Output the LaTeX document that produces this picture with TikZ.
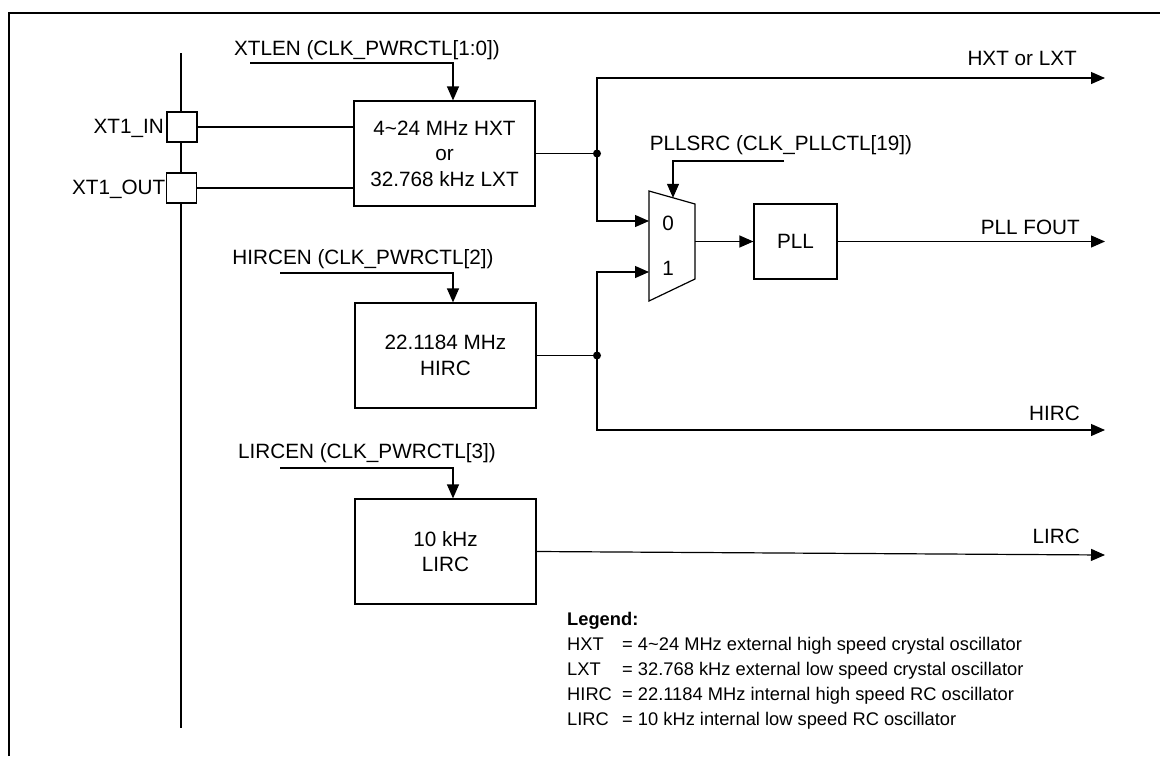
\documentclass[tikz,border=0pt]{standalone}
\usepackage{fontspec}
\setmainfont{Liberation Sans}
\usetikzlibrary{arrows.meta}
\begin{document}
\begin{tikzpicture}[x=1pt,y=-1pt,
  every node/.style={font=\fontsize{20.7}{25.5}\selectfont, inner sep=0pt},
  blk/.style={draw, line width=1.2pt, align=center, fill=white},
  wire/.style={line width=1.2pt},
  arr/.style={wire, -{Triangle[length=14pt,width=12pt]}},
  dot/.style={circle, fill, minimum size=8pt, inner sep=0pt},
]
\useasboundingbox (0,0) rectangle (1160,756);
% frame
\draw[line width=2.5pt] (9,756) -- (9,13) -- (1160,13);
% pin bus
\coordinate (bt) at (181,53);
\coordinate (bb) at (181,728);
\draw[line width=2pt] (bt) -- (bb);
\node[blk, minimum size=30pt] (pin) at (182,127) {};
\node[blk, minimum size=30pt] (pout) at (181.5,188) {};
\node[anchor=east] (lin) at (164,128) {XT1\_IN};
\node[anchor=east] (lout) at (165.5,189) {XT1\_OUT};

% blocks
\node[blk, minimum width=181pt, minimum height=105pt] (hxt) at (444.5,153.5) {4\textasciitilde 24 MHz HXT\\or\\32.768 kHz LXT};
\node[blk, minimum width=181pt, minimum height=105pt] (hirc) at (445.5,355.5) {22.1184 MHz\\HIRC};
\node[blk, minimum width=181pt, minimum height=105pt] (lirc) at (445.5,551.5) {10 kHz\\LIRC};
\node[blk, minimum width=83pt, minimum height=75pt] (pll) at (795.5,241.5) {PLL};

% mux
\coordinate (mtl) at (649,191);
\coordinate (mtr) at (695,204);
\coordinate (mbr) at (695,279);
\coordinate (mbl) at (649,301);
\draw[wire] (mtl) -- (mtr) -- (mbr) -- (mbl) -- cycle;
\coordinate (mux0) at (649,221);
\coordinate (mux1) at (649,272);
\coordinate (muxout) at (695,241.5);
\coordinate (muxsel) at (673,197.8);
\node (m0) at (668,223) {0};
\node (m1) at (668,268) {1};

% pins to HXT
\draw[wire] (pin.east) -- (pin.east -| hxt.west);
\draw[wire] (pout.east) -- (pout.east -| hxt.west);

% junctions
\coordinate (j1) at (597,153.5);
\coordinate (j2) at (597,355.5);
\coordinate (o1) at (1105,78);
\coordinate (o2) at (1105,241.5);
\coordinate (o3) at (1105,430);
\coordinate (o4) at (1105,555);

\draw[wire] (hxt.east) -- (j1);
\draw[arr] (j1) |- (o1);
\draw[arr] (j1) |- (mux0);
\node[dot] (d1) at (j1) {};

\draw[wire] (hirc.east) -- (j2);
\draw[arr] (j2) |- (mux1);
\draw[arr] (j2) |- (o3);
\node[dot] (d2) at (j2) {};

\draw[arr] (muxout) -- (pll.west);
\draw[arr] (pll.east) -- (o2);
\draw[arr] (lirc.east) -- (o4);

% control inputs
\coordinate (c1) at (250,63);
\coordinate (c2) at (784,161);
\coordinate (c3) at (280,273);
\coordinate (c4) at (280,468);
\draw[arr] (c1) -| ([xshift=8.5pt]hxt.north);
\draw[arr] (c2) -| (muxsel);
\draw[arr] (c3) -| ([xshift=7.5pt]hirc.north);
\draw[arr] (c4) -| ([xshift=7.5pt]lirc.north);

\node (t1) at (367,50) {XTLEN (CLK\_PWRCTL[1:0])};
\node (t2) at (781,145) {PLLSRC (CLK\_PLLCTL[19])};
\node (t3) at (363,259) {HIRCEN (CLK\_PWRCTL[2])};
\node (t4) at (367,453) {LIRCEN (CLK\_PWRCTL[3])};

% output labels
\node[anchor=east] (l1) at (1077,58) {HXT or LXT};
\node[anchor=east] (l2) at (1080,227) {PLL FOUT};
\node[anchor=east] (l3) at (1080,413) {HIRC};
\node[anchor=east] (l4) at (1080,536) {LIRC};

% legend
\node[anchor=north west, font=\fontsize{18.3}{25}\selectfont] (leg) at (567,608) {%
\begin{tabular}{@{}p{55pt}@{}l@{}}
\multicolumn{2}{@{}l@{}}{\textbf{Legend:}}\\
HXT & = 4\textasciitilde 24 MHz external high speed crystal oscillator\\
LXT & = 32.768 kHz external low speed crystal oscillator\\
HIRC & = 22.1184 MHz internal high speed RC oscillator\\
LIRC & = 10 kHz internal low speed RC oscillator
\end{tabular}};
\end{tikzpicture}
\end{document}
